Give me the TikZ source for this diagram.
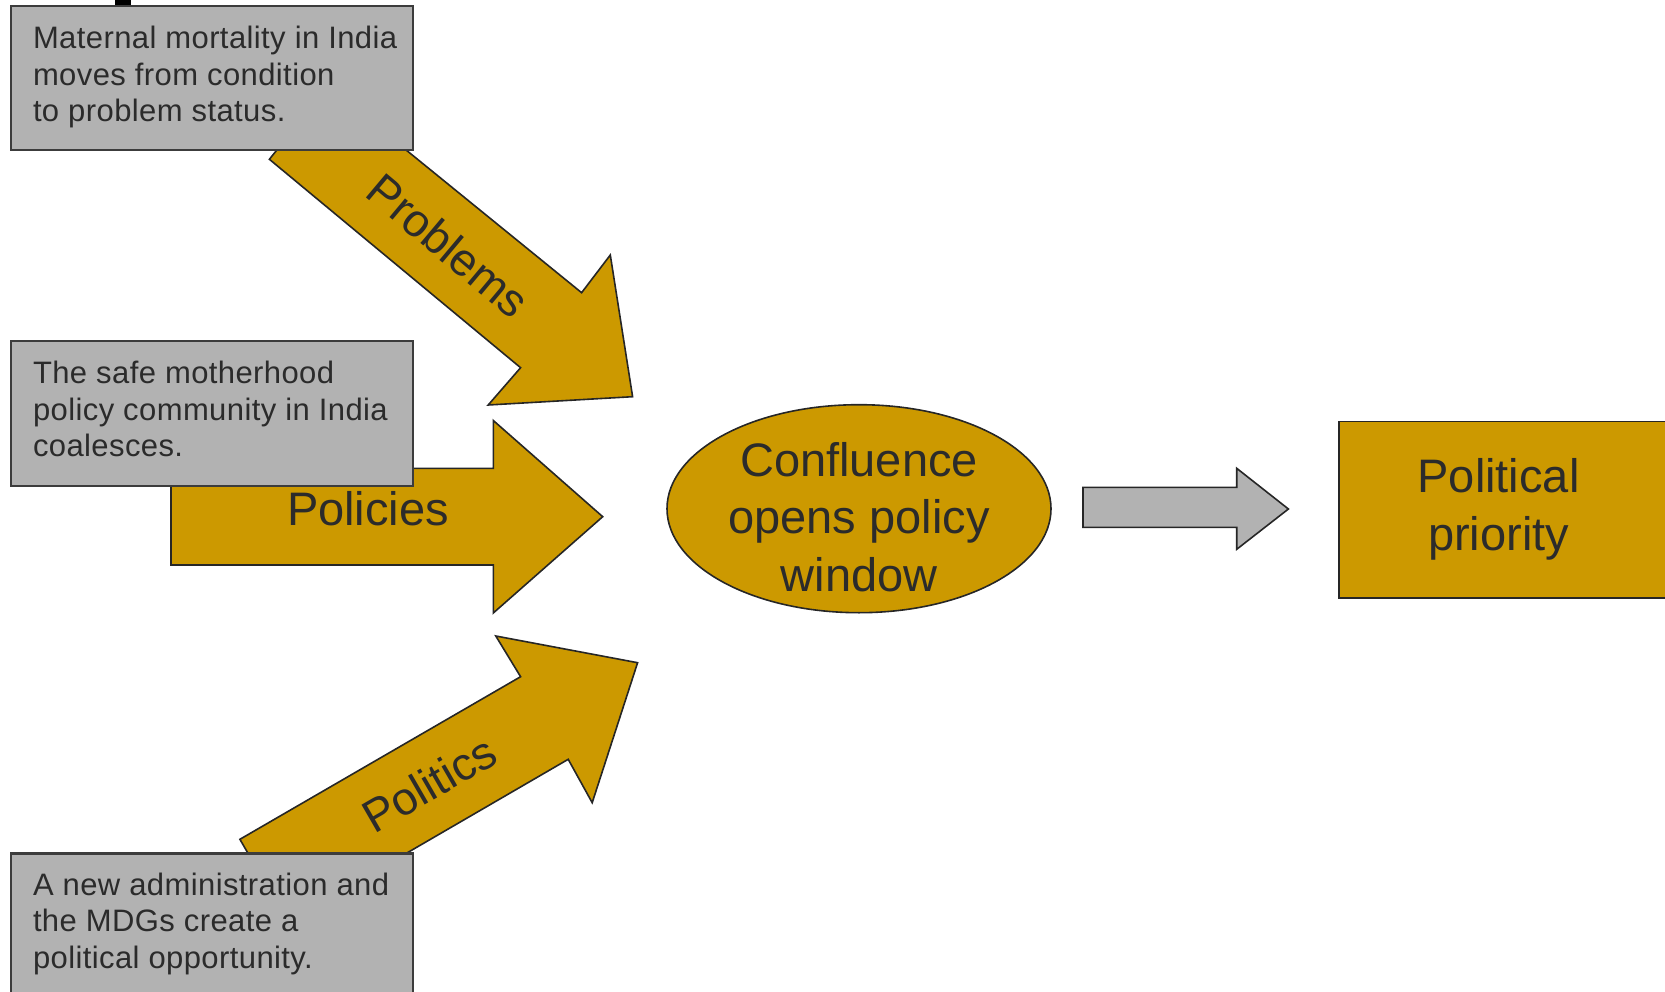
\documentclass[tikz,border=0pt]{standalone}
\usepackage{fontspec}
\setmainfont{Liberation Sans}
\newfontfamily\boxfont[LetterSpace=1.3]{Liberation Sans}
\usetikzlibrary{shapes.geometric}
\definecolor{gold}{HTML}{CC9900}
\definecolor{boxgrey}{HTML}{B2B2B2}
\definecolor{ink}{HTML}{2B2B2B}
\definecolor{edge}{HTML}{262626}
\tikzset{
  goldarrow/.style={fill=gold, draw=edge, line width=1.6pt, line join=miter},
  greyarrow/.style={fill=boxgrey, draw=edge, line width=1.6pt, line join=miter},
  greybox/.style={rectangle, fill=boxgrey, draw=edge!90!white, line width=2.2pt, inner sep=0pt},
  boxtext/.style={text=ink, align=left, inner sep=0pt, font=\boxfont\fontsize{31}{36.8}\selectfont},
  bigtext/.style={text=ink, align=center, inner sep=0pt, font=\fontsize{47}{57.5}\selectfont},
  armlabel/.style={text=ink, inner sep=0pt, font=\fontsize{46}{55}\selectfont}
}
\begin{document}
\begin{tikzpicture}[x=1pt, y=-1pt]
\useasboundingbox (0,0) rectangle (1665,992);

% fragment of a heading above the first box
\fill[black] (115,-2) rectangle (131,6);

% the three streams
\draw[goldarrow] (328,86.5) -- (581.6,292.7) -- (610.3,255) -- (632.6,396.7)
  -- (488.2,405) -- (520.6,367.7) -- (269.4,159.3) -- cycle;
\node[armlabel, rotate=-40] (problems) at (448.5,245.5) {Problems};

\draw[goldarrow] (171,468.3) -- (493.3,468.3) -- (493.3,420.5) -- (602.7,516.7)
  -- (493.3,613) -- (493.3,565) -- (171,565) -- cycle;
\node[armlabel, font=\fontsize{47}{57}\selectfont] (policies) at (368,509) {Policies};

\draw[goldarrow] (239.9,839.3) -- (520.6,676.7) -- (495.8,636) -- (637.6,662.7)
  -- (592.2,802.7) -- (568.2,759.3) -- (287.9,922.1) -- cycle;
\node[armlabel, rotate=30] (politics) at (429,784) {Politics};

% explanatory boxes
\node[greybox, minimum width=401.6pt, minimum height=144pt, anchor=north west] (probbox) at (10,5) {};
\node[boxtext, anchor=north west] (probtext) at (32.8,25.7)
  {Maternal mortality in India\\moves from condition\\to problem status.};

\node[greybox, minimum width=401.6pt, minimum height=145pt, anchor=north west] (polbox) at (10,340) {};
\node[boxtext, anchor=north west] (poltext) at (32.8,360.7)
  {The safe motherhood\\policy community in India\\coalesces.};

\node[greybox, minimum width=401.6pt, minimum height=144pt, anchor=north west] (pltbox) at (10,852.3) {};
\node[boxtext, anchor=north west] (plttext) at (32.8,872.4)
  {A new administration and\\the MDGs create a\\political opportunity.};

% policy window
\node[ellipse, fill=gold, draw=edge, line width=1.6pt, minimum width=384pt, minimum height=208pt, inner sep=0pt] (conf) at (859,508.7) {};
\node[bigtext] (conftext) at (859,517) {Confluence\\opens policy\\window};

% outcome
\node[rectangle, fill=gold, draw=edge, line width=1.8pt, minimum width=420pt, minimum height=176.5pt, anchor=north west] (prio) at (1338,420.5) {};
\node[bigtext] (priotext) at (1498.5,509.5) {Political\\priority};

\draw[greyarrow] (1083,487.3) -- (1236.7,487.3) -- (1236.7,468.3) -- (1288.4,509)
  -- (1236.7,549.3) -- (1236.7,527.3) -- (1083,527.3) -- cycle;
\end{tikzpicture}
\end{document}
